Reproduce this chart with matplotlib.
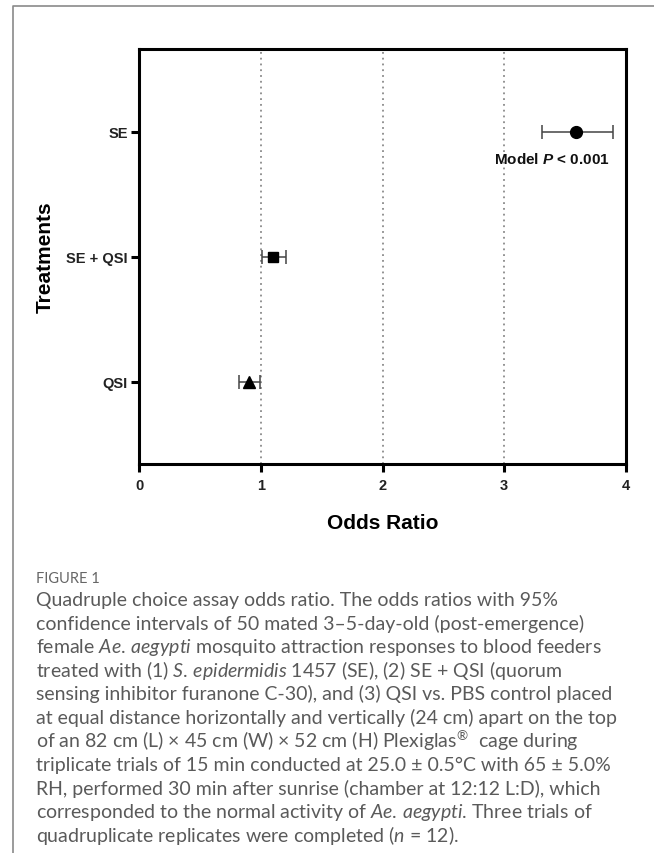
import numpy as np
import matplotlib
matplotlib.use('Agg')
import matplotlib.pyplot as plt
from matplotlib.lines import Line2D

# data
treatments = ['QSI', 'SE + QSI', 'SE']
odds = [0.90, 1.10, 3.59]
lower = [0.82, 1.01, 3.31]
upper = [0.99, 1.21, 3.89]
markers = ['^', 's', 'o']
msizes = [8.5, 7.5, 8.5]
xticks = [0, 1, 2, 3, 4]

caption_title = 'FIGURE 1'
caption_lines = [
	'Quadruple choice assay odds ratio. The odds ratios with 95%',
	'confidence intervals of 50 mated 3\u20135-day-old (post-emergence)',
	r'female $\mathit{Ae.\,aegypti}$ mosquito attraction responses to blood feeders',
	r'treated with (1) $\mathit{S.\,epidermidis}$ 1457 (SE), (2) SE + QSI (quorum',
	'sensing inhibitor furanone C-30), and (3) QSI vs. PBS control placed',
	'at equal distance horizontally and vertically (24 cm) apart on the top',
	'of an 82 cm (L) \u00d7 45 cm (W) \u00d7 52 cm (H) Plexiglas$^{\u00ae}$  cage during',
	'triplicate trials of 15 min conducted at 25.0 \u00b1 0.5\u00b0C with 65 \u00b1 5.0%',
	'RH, performed 30 min after sunrise (chamber at 12:12 L:D), which',
	r'corresponded to the normal activity of $\mathit{Ae.\,aegypti}$. Three trials of',
	r'quadruplicate replicates were completed ($\mathit{n}$ = 12).',
]

plt.rcParams['font.family'] = 'Liberation Sans'
plt.rcParams['mathtext.fontset'] = 'custom'
plt.rcParams['mathtext.rm'] = 'Lato'
plt.rcParams['mathtext.it'] = 'Lato:italic'
plt.rcParams['mathtext.bf'] = 'Liberation Sans:bold'
plt.rcParams['mathtext.bfit'] = 'Liberation Sans:italic:bold'

W, H = 654, 854
fig = plt.figure(figsize=(W / 100, H / 100), dpi=100)

# grey frame round the figure panel
fig.add_artist(Line2D([13 / W, 13 / W, 1], [0, 1 - 7 / H, 1 - 7 / H],
	transform=fig.transFigure, color='#8a8a8a', lw=1.2))

ax = fig.add_axes([139 / W, 1 - 465 / H, (626 - 139) / W, (465 - 50) / H])

for x in [1, 2, 3]:
	ax.axvline(x, color='#8a8a8a', ls=(0, (1, 2.2)), lw=1.3, zorder=0)

ypos = np.arange(len(treatments))
for i in range(len(treatments)):
	ax.errorbar(odds[i], ypos[i],
		xerr=[[odds[i] - lower[i]], [upper[i] - odds[i]]],
		fmt='none', ecolor='#444444', elinewidth=1.1, capsize=5, capthick=1.1, zorder=2)
	ax.plot(odds[i], ypos[i], marker=markers[i], ms=msizes[i], color='black',
		ls='none', zorder=3)

ax.text(3.39, 1.784, r'Model $\mathbfit{P}$ < 0.001', ha='center', va='center',
	fontsize=11, fontweight='bold', color='#111111')

ax.set_xlim(0, 4)
ax.set_ylim(-0.66, 2.66)
ax.set_xticks(xticks)
ax.set_yticks(ypos)
ax.set_yticklabels(treatments)
for s in ax.spines.values():
	s.set_linewidth(2.2)
ax.tick_params(axis='both', direction='out', length=6, width=2.2,
	labelsize=10.5, labelcolor='#222222')
ax.tick_params(axis='y', pad=2)
ax.tick_params(axis='x', pad=4)
for lab in ax.get_xticklabels() + ax.get_yticklabels():
	lab.set_fontweight('bold')

ax.set_xlabel('Odds Ratio', fontsize=15, fontweight='bold', labelpad=15)
ax.set_ylabel('Treatments', fontsize=15, fontweight='bold', labelpad=8)

# caption
fig.text(36 / W, 1 - 583 / H, caption_title, fontsize=10.5, color='#666666',
	family='Lato', va='baseline')
y0 = 606
dy = 23.6
for k, line in enumerate(caption_lines):
	fig.text(36 / W, 1 - (y0 + k * dy) / H, line, fontsize=14, color='#5a5a5a',
		family='Lato', va='baseline')

fig.savefig('out.png', dpi=100)
